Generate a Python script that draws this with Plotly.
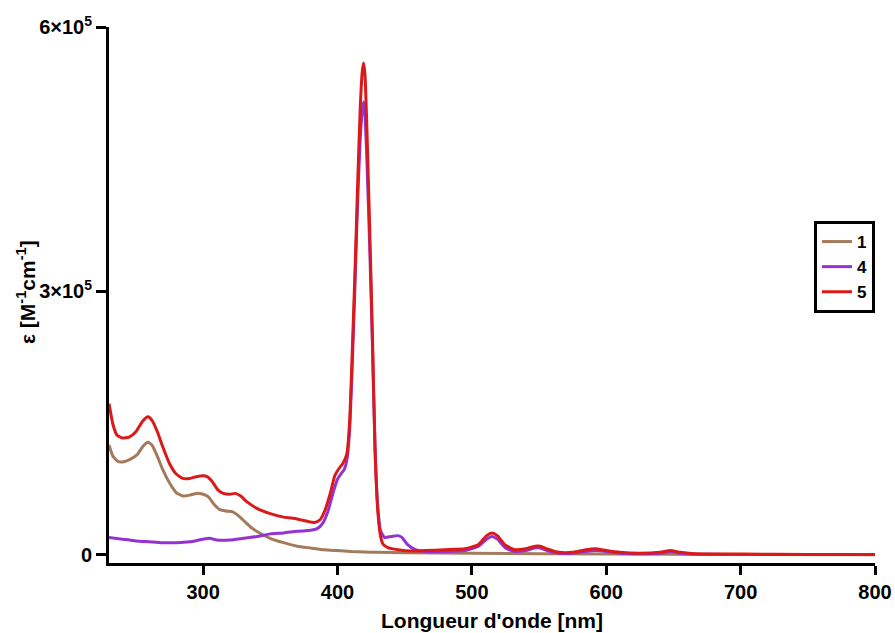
import plotly.graph_objects as go

# ---- data (epsilon in 1e3 M^-1 cm^-1) ----
wl_1 = [230, 233, 237, 241, 246, 251, 255, 259, 262, 266, 270, 275, 280, 285, 290, 295, 300, 304,
        308, 312, 317, 322, 326, 331, 336, 342, 350, 360, 370, 380, 390, 400, 410, 420, 430, 450,
        500, 600, 700, 800]
eps_1 = [125, 112, 106, 106, 109, 114, 123, 128, 125, 112, 97, 82, 71, 67, 68, 70, 69, 66,
         58, 52, 50, 49, 45, 38, 31, 25, 19, 14, 10, 8, 6, 5, 4, 3.5, 3, 2.5,
         2, 1, 0.5, 0.3]

wl_4 = [230, 240, 250, 260, 270, 280, 290, 300, 305, 310, 320, 330, 340, 350, 360, 370, 380, 385,
        389, 393, 397, 400, 403, 405, 407, 409, 411, 413, 415, 417, 418.5, 419.5, 420.5, 422, 424,
        426, 428, 430, 432, 435, 440, 445, 448, 452, 458, 465, 480, 495, 505, 511, 515, 519, 525,
        532, 540, 547, 551, 556, 565, 575, 585, 592, 600, 610, 625, 640, 648, 655, 665, 700, 800]
eps_4 = [20, 18, 16, 15, 14, 14, 15, 18, 19, 17, 17, 19, 21, 24, 25, 27, 28, 30,
         36, 50, 72, 86, 93, 97, 108, 140, 215, 305, 400, 475, 505, 515, 500, 445, 350,
         240, 118, 55, 28, 20, 21, 22, 20, 12, 6, 4, 4, 5, 10, 18, 21, 18, 8,
         4, 5, 8, 8, 5, 2, 2, 4, 5, 4, 2, 1.5, 2, 4, 2, 1, 0.5, 0.5]

wl_5 = [230, 233, 236, 240, 245, 250, 255, 259, 262, 266, 270, 275, 280, 285, 290, 295, 300, 303,
        307, 311, 315, 320, 324, 328, 333, 340, 350, 360, 370, 378, 383, 387, 391, 395, 398, 401,
        404, 407, 409, 411, 413, 415, 417, 418.5, 419.5, 420.5, 422, 424, 426, 428, 430, 432, 434,
        438, 445, 455, 465, 480, 495, 505, 511, 515, 519, 525, 532, 540, 547, 551, 556, 565, 575,
        585, 592, 600, 610, 625, 640, 648, 655, 665, 700, 750, 800]
eps_5 = [172, 148, 136, 133, 134, 140, 152, 157, 153, 140, 123, 104, 92, 87, 87, 89, 90, 89,
         83, 74, 70, 69, 70, 67, 60, 53, 47, 43, 41, 38, 37, 40, 52, 72, 90, 98,
         104, 115, 150, 230, 320, 420, 510, 550, 559, 545, 480, 370, 250, 120, 50, 22, 12,
         8, 6, 4.5, 5, 6, 7, 12, 22, 25, 22, 11, 6, 7, 10, 10, 7, 3, 3,
         6, 7, 5, 3, 2, 3, 5, 3, 1.5, 1, 0.5, 0.5]

series_names = ["1", "4", "5"]
series_colors = ["#A47A5C", "#9432D2", "#DC1919"]

x_tickvals = [300, 400, 500, 600, 700, 800]
y_tickvals = [0, 300000, 600000]
y_ticktext = ["<b>0</b>", "<b>3×10<sup>5</sup></b>", "<b>6×10<sup>5</sup></b>"]

FONT = "Liberation Sans, Arial, sans-serif"

W, H = 895, 633
ML, MR, MT, MB = 109, 20, 27, 70
PW, PH = W - ML - MR, H - MT - MB

fig = go.Figure()
for name, color, wl, eps in zip(series_names, series_colors,
                                [wl_1, wl_4, wl_5], [eps_1, eps_4, eps_5]):
    fig.add_trace(go.Scatter(
        x=wl, y=[v * 1000 for v in eps], mode="lines", name=name,
        line=dict(color=color, width=3, shape="spline", smoothing=0.5),
    ))

fig.update_layout(
    width=W, height=H,
    margin=dict(l=ML, r=MR, t=MT, b=MB, autoexpand=False),
    plot_bgcolor="white", paper_bgcolor="white",
    font=dict(family=FONT, size=20, color="black"),
    showlegend=True,
    legend=dict(
        x=1.0, y=(H - MB - 221) / PH, xanchor="right", yanchor="top",
        bordercolor="black", borderwidth=3, bgcolor="white",
        font=dict(family=FONT, size=17, color="black", weight="bold"),
        itemwidth=30, tracegroupgap=0,
    ),
    xaxis=dict(
        range=[230, 800], showgrid=False, zeroline=False,
        showline=True, linecolor="black", linewidth=3,
        ticks="outside", ticklen=9, tickwidth=3, tickcolor="black",
        tickvals=x_tickvals, ticktext=[f"<b>{v}</b>" for v in x_tickvals],
        tickfont=dict(family=FONT, size=20, color="black"),
    ),
    yaxis=dict(
        range=[-9100, 600000], showgrid=False, zeroline=False,
        showline=True, linecolor="black", linewidth=3,
        ticks="outside", ticklen=10, tickwidth=3, tickcolor="black",
        tickvals=y_tickvals, ticktext=y_ticktext,
        tickfont=dict(family=FONT, size=20, color="black"),
    ),
    annotations=[
        dict(text="<b>Longueur d'onde [nm]</b>", xref="paper", yref="paper",
             x=0.5, y=-(620 - (H - MB)) / PH, xanchor="center", yanchor="middle",
             showarrow=False, font=dict(family=FONT, size=21, color="black")),
        dict(text="<b>ε [M<sup>-1</sup>cm<sup>-1</sup>]</b>", xref="paper", yref="paper",
             x=-(ML - 26) / PW, y=((H - MB) - 292) / PH, xanchor="center", yanchor="middle",
             textangle=-90, showarrow=False,
             font=dict(family=FONT, size=21, color="black")),
    ],
)

# remove the page's default 8px body margin so the 895x633 figure fills the window exactly
fig.write_html(
    "out.html",
    config={"displayModeBar": False},
    post_script="document.body.style.margin='0';document.body.style.overflow='hidden';",
)
